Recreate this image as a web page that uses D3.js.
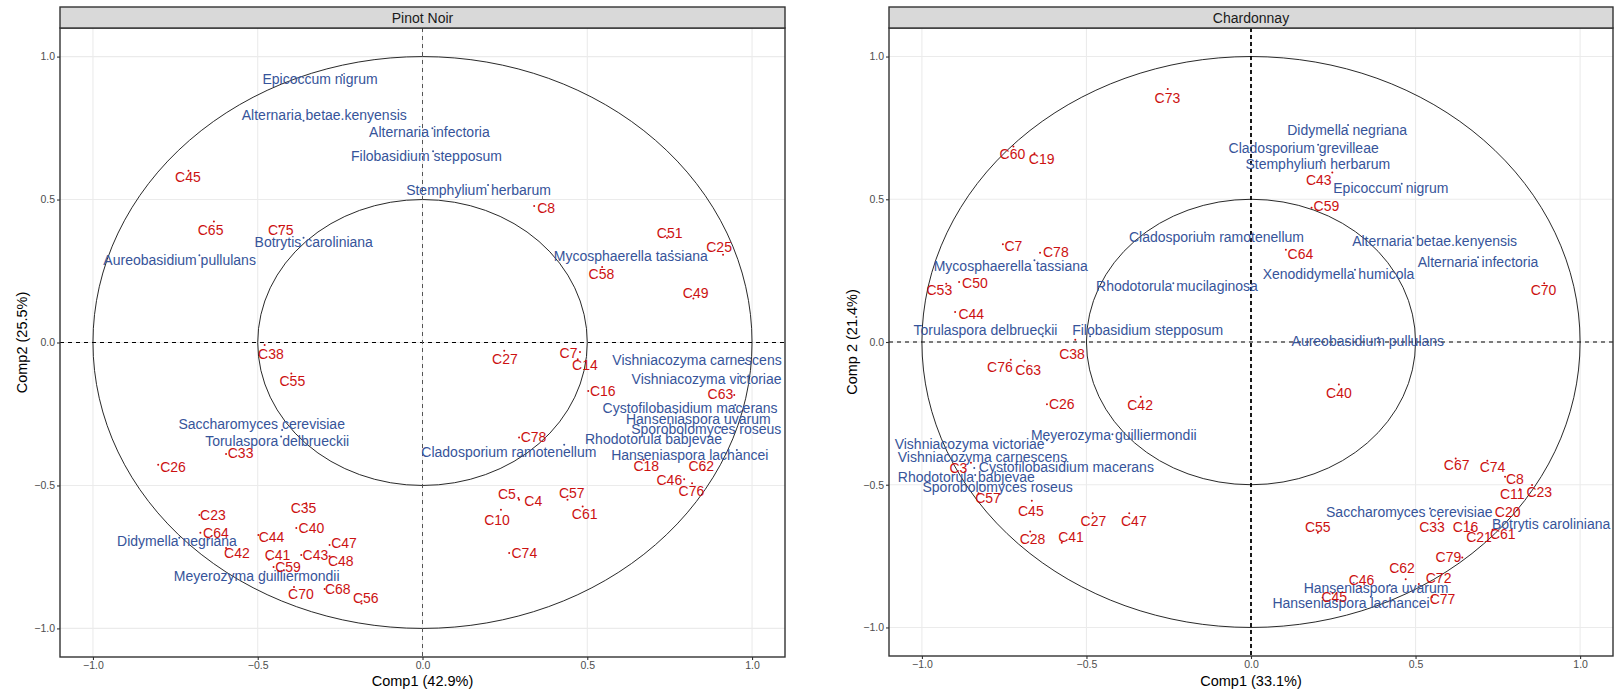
<!DOCTYPE html>
<html>
<head>
<meta charset="utf-8">
<script src="https://cdn.jsdelivr.net/npm/d3@7"></script>
<style>
  html, body { margin: 0; padding: 0; background: #ffffff; }
  svg { display: block; font-family: "Liberation Sans", Arial, Helvetica, sans-serif; }
</style>
</head>
<body>
<svg id="chart" width="1617" height="694"></svg>
<script>
// ---------------- DATA ----------------
// Each row: [label, x, y, labelX, labelY]  (point coordinates and repelled label position, data units)
const panelTitles = ["Pinot Noir", "Chardonnay"];
const xAxisTitles = ["Comp1 (42.9%)", "Comp1 (33.1%)"];
const yAxisTitles = ["Comp2 (25.5%)", "Comp 2 (21.4%)"];
const tickValues = [-1.0, -0.5, 0.0, 0.5, 1.0];
const circleRadii = [1.0, 0.5];

const pinotSamples = [
  ["C45", -0.710, 0.601, -0.712, 0.578],
  ["C65", -0.633, 0.423, -0.643, 0.392],
  ["C75", -0.434, 0.406, -0.430, 0.394],
  ["C8", 0.339, 0.477, 0.375, 0.471],
  ["C51", 0.742, 0.366, 0.750, 0.384],
  ["C25", 0.912, 0.307, 0.900, 0.334],
  ["C58", 0.545, 0.264, 0.543, 0.238],
  ["C49", 0.822, 0.154, 0.829, 0.173],
  ["C38", -0.479, -0.009, -0.460, -0.041],
  ["C55", -0.398, -0.108, -0.395, -0.135],
  ["C33", -0.596, -0.390, -0.552, -0.387],
  ["C26", -0.802, -0.428, -0.757, -0.434],
  ["C23", -0.677, -0.603, -0.636, -0.605],
  ["C64", -0.674, -0.665, -0.627, -0.665],
  ["C42", -0.596, -0.719, -0.563, -0.736],
  ["C44", -0.498, -0.673, -0.458, -0.679],
  ["C35", -0.353, -0.562, -0.361, -0.579],
  ["C40", -0.383, -0.649, -0.337, -0.649],
  ["C41", -0.466, -0.760, -0.440, -0.743],
  ["C43", -0.368, -0.743, -0.325, -0.743],
  ["C47", -0.282, -0.708, -0.238, -0.702],
  ["C48", -0.282, -0.748, -0.248, -0.763],
  ["C59", -0.452, -0.785, -0.408, -0.785],
  ["C70", -0.390, -0.855, -0.369, -0.879],
  ["C68", -0.297, -0.862, -0.257, -0.862],
  ["C56", -0.185, -0.913, -0.172, -0.895],
  ["C27", 0.248, -0.029, 0.250, -0.059],
  ["C7", 0.478, -0.033, 0.443, -0.035],
  ["C14", 0.471, -0.059, 0.493, -0.079],
  ["C16", 0.503, -0.170, 0.547, -0.170],
  ["C63", 0.946, -0.184, 0.904, -0.180],
  ["C78", 0.293, -0.332, 0.337, -0.332],
  ["C18", 0.671, -0.411, 0.679, -0.432],
  ["C62", 0.853, -0.446, 0.846, -0.432],
  ["C46", 0.794, -0.478, 0.749, -0.481],
  ["C76", 0.818, -0.492, 0.816, -0.521],
  ["C5", 0.291, -0.544, 0.256, -0.531],
  ["C4", 0.293, -0.550, 0.336, -0.553],
  ["C57", 0.440, -0.550, 0.453, -0.527],
  ["C61", 0.486, -0.574, 0.492, -0.599],
  ["C10", 0.238, -0.585, 0.226, -0.620],
  ["C74", 0.263, -0.736, 0.309, -0.736]
];

const pinotSpecies = [
  ["Epicoccum nigrum", -0.244, 0.936, -0.311, 0.921],
  ["Alternaria betae.kenyensis", -0.361, 0.776, -0.298, 0.796],
  ["Alternaria infectoria", 0.030, 0.749, 0.021, 0.735],
  ["Filobasidium stepposum", 0.032, 0.669, 0.012, 0.654],
  ["Stemphylium herbarum", 0.199, 0.551, 0.170, 0.534],
  ["Mycosphaerella tassiana", 0.757, 0.320, 0.632, 0.302],
  ["Botrytis caroliniana", -0.361, 0.366, -0.330, 0.351],
  ["Aureobasidium pullulans", -0.677, 0.305, -0.737, 0.287],
  ["Saccharomyces cerevisiae", -0.426, -0.306, -0.488, -0.285],
  ["Torulaspora delbrueckii", -0.429, -0.329, -0.441, -0.345],
  ["Didymella negriana", -0.738, -0.683, -0.745, -0.696],
  ["Meyerozyma guilliermondii", -0.479, -0.802, -0.503, -0.818],
  ["Cladosporium ramotenellum", 0.430, -0.358, 0.262, -0.382],
  ["Vishniacozyma carnescens", 0.980, -0.072, 0.833, -0.062],
  ["Vishniacozyma victoriae", 0.964, -0.118, 0.862, -0.126],
  ["Cystofilobasidium macerans", 0.949, -0.219, 0.812, -0.228],
  ["Hanseniaspora uvarum", 0.919, -0.261, 0.837, -0.269],
  ["Sporobolomyces roseus", 0.904, -0.296, 0.861, -0.304],
  ["Rhodotorula babjevae", 0.721, -0.327, 0.701, -0.339],
  ["Hanseniaspora lachancei", 0.954, -0.376, 0.811, -0.393]
];

const chardSamples = [
  ["C73", -0.253, 0.886, -0.254, 0.855],
  ["C60", -0.722, 0.685, -0.725, 0.659],
  ["C19", -0.658, 0.661, -0.636, 0.640],
  ["C7", -0.754, 0.342, -0.722, 0.338],
  ["C78", -0.641, 0.313, -0.593, 0.315],
  ["C50", -0.887, 0.210, -0.839, 0.206],
  ["C53", -0.926, 0.204, -0.947, 0.181],
  ["C44", -0.899, 0.105, -0.850, 0.099],
  ["C43", 0.247, 0.594, 0.206, 0.569],
  ["C59", 0.184, 0.470, 0.229, 0.476],
  ["C64", 0.106, 0.323, 0.150, 0.307],
  ["C70", 0.891, 0.206, 0.889, 0.181],
  ["C38", -0.534, 0.008, -0.544, -0.043],
  ["C76", -0.730, -0.062, -0.763, -0.087],
  ["C63", -0.688, -0.066, -0.677, -0.097],
  ["C26", -0.620, -0.218, -0.575, -0.218],
  ["C42", -0.335, -0.192, -0.337, -0.221],
  ["C3", -0.851, -0.423, -0.889, -0.443],
  ["C57", -0.828, -0.530, -0.799, -0.548],
  ["C45", -0.666, -0.556, -0.669, -0.592],
  ["C27", -0.481, -0.600, -0.479, -0.627],
  ["C47", -0.370, -0.600, -0.356, -0.627],
  ["C28", -0.671, -0.664, -0.664, -0.691],
  ["C41", -0.575, -0.703, -0.547, -0.682],
  ["C40", 0.267, -0.149, 0.267, -0.177],
  ["C67", 0.622, -0.408, 0.625, -0.431],
  ["C74", 0.718, -0.416, 0.734, -0.439],
  ["C8", 0.772, -0.472, 0.802, -0.480],
  ["C11", 0.817, -0.516, 0.794, -0.534],
  ["C23", 0.854, -0.501, 0.876, -0.524],
  ["C20", 0.810, -0.588, 0.780, -0.594],
  ["C55", 0.203, -0.668, 0.203, -0.647],
  ["C33", 0.571, -0.620, 0.550, -0.647],
  ["C16", 0.655, -0.629, 0.652, -0.649],
  ["C21", 0.670, -0.658, 0.693, -0.682],
  ["C61", 0.734, -0.658, 0.765, -0.672],
  ["C79", 0.642, -0.755, 0.600, -0.752],
  ["C62", 0.470, -0.831, 0.459, -0.792],
  ["C72", 0.510, -0.848, 0.570, -0.827],
  ["C46", 0.333, -0.857, 0.336, -0.833],
  ["C45", 0.248, -0.880, 0.253, -0.892],
  ["C77", 0.550, -0.893, 0.582, -0.901]
];

const chardSpecies = [
  ["Didymella negriana", 0.295, 0.760, 0.292, 0.744],
  ["Cladosporium grevilleae", 0.204, 0.691, 0.160, 0.680],
  ["Stemphylium herbarum", 0.215, 0.638, 0.203, 0.624],
  ["Epicoccum nigrum", 0.458, 0.554, 0.425, 0.538],
  ["Cladosporium ramotenellum", -0.140, 0.384, -0.105, 0.367],
  ["Rhodotorula mucilaginosa", -0.236, 0.206, -0.225, 0.195],
  ["Alternaria betae.kenyensis", 0.493, 0.365, 0.558, 0.353],
  ["Alternaria infectoria", 0.690, 0.297, 0.690, 0.282],
  ["Xenodidymella humicola", 0.316, 0.253, 0.266, 0.237],
  ["Aureobasidium pullulans", 0.387, 0.015, 0.355, 0.003],
  ["Mycosphaerella tassiana", -0.658, 0.286, -0.730, 0.266],
  ["Torulaspora delbrueckii", -0.633, 0.020, -0.807, 0.043],
  ["Filobasidium stepposum", -0.489, 0.020, -0.314, 0.041],
  ["Meyerozyma guilliermondii", -0.421, -0.323, -0.417, -0.326],
  ["Vishniacozyma victoriae", -0.620, -0.344, -0.855, -0.358],
  ["Vishniacozyma carnescens", -0.869, -0.414, -0.816, -0.402],
  ["Cystofilobasidium macerans", -0.841, -0.441, -0.561, -0.439],
  ["Rhodotorula babjevae", -0.838, -0.466, -0.865, -0.472],
  ["Sporobolomyces roseus", -0.823, -0.501, -0.770, -0.509],
  ["Saccharomyces cerevisiae", 0.544, -0.583, 0.481, -0.594],
  ["Botrytis caroliniana", 0.744, -0.623, 0.912, -0.637],
  ["Hanseniaspora uvarum", 0.422, -0.851, 0.380, -0.862],
  ["Hanseniaspora lachancei", 0.364, -0.892, 0.304, -0.913]
];

// ---------------- LAYOUT / STYLE ----------------
const sampleColor = "#CC1111";
const speciesColor = "#36549A";
const panels = [
  { title: panelTitles[0], xTitle: xAxisTitles[0], yTitle: yAxisTitles[0],
    samples: pinotSamples, species: pinotSpecies,
    x0: 60, x1: 785, y0: 28, y1: 657, yTitleX: 22, vDash: { color: "#555", width: 1, dash: "4,4" } },
  { title: panelTitles[1], xTitle: xAxisTitles[1], yTitle: yAxisTitles[1],
    samples: chardSamples, species: chardSpecies,
    x0: 889, x1: 1613, y0: 28, y1: 656, yTitleX: 852, vDash: { color: "#000", width: 1.8, dash: "4,3" } }
];
const stripTop = 7;

const svg = d3.select("#chart");

panels.forEach((p, pi) => {
  const x = d3.scaleLinear().domain([-1.1, 1.1]).range([p.x0, p.x1]);
  const y = d3.scaleLinear().domain([-1.1, 1.1]).range([p.y1, p.y0]);
  const g = svg.append("g");

  // panel background
  g.append("rect").attr("x", p.x0).attr("y", p.y0)
    .attr("width", p.x1 - p.x0).attr("height", p.y1 - p.y0).attr("fill", "#fff");

  // grid lines
  g.append("g").selectAll("line.gx").data(tickValues).join("line")
    .attr("x1", d => x(d)).attr("x2", d => x(d)).attr("y1", p.y0).attr("y2", p.y1)
    .attr("stroke", "#EBEBEB").attr("stroke-width", 1.1);
  g.append("g").selectAll("line.gy").data(tickValues).join("line")
    .attr("y1", d => y(d)).attr("y2", d => y(d)).attr("x1", p.x0).attr("x2", p.x1)
    .attr("stroke", "#EBEBEB").attr("stroke-width", 1.1);

  // correlation circles
  g.append("g").selectAll("ellipse").data(circleRadii).join("ellipse")
    .attr("cx", x(0)).attr("cy", y(0))
    .attr("rx", d => x(d) - x(0)).attr("ry", d => y(0) - y(d))
    .attr("fill", "none").attr("stroke", "#111").attr("stroke-width", 0.9);

  // dashed reference lines
  g.append("line").attr("x1", p.x0).attr("x2", p.x1).attr("y1", y(0)).attr("y2", y(0))
    .attr("stroke", "#000").attr("stroke-width", 1.1).attr("stroke-dasharray", "4,4");
  g.append("line").attr("x1", x(0)).attr("x2", x(0)).attr("y1", p.y0).attr("y2", p.y1)
    .attr("stroke", p.vDash.color).attr("stroke-width", p.vDash.width).attr("stroke-dasharray", p.vDash.dash);

  // points
  const drawSet = (rows, color) => {
    const sg = g.append("g");
    sg.selectAll("circle").data(rows).join("circle")
      .attr("cx", d => x(d[1])).attr("cy", d => y(d[2])).attr("r", 1)
      .attr("fill", color);
    sg.selectAll("text").data(rows).join("text")
      .attr("x", d => x(d[3])).attr("y", d => y(d[4]))
      .attr("text-anchor", "middle").attr("dominant-baseline", "central")
      .attr("font-size", 14).attr("fill", color)
      .text(d => d[0]);
  };
  drawSet(p.species, speciesColor);
  drawSet(p.samples, sampleColor);

  // panel border
  g.append("rect").attr("x", p.x0).attr("y", p.y0)
    .attr("width", p.x1 - p.x0).attr("height", p.y1 - p.y0)
    .attr("fill", "none").attr("stroke", "#333").attr("stroke-width", 1.4);

  // strip
  g.append("rect").attr("x", p.x0).attr("y", stripTop)
    .attr("width", p.x1 - p.x0).attr("height", p.y0 - stripTop)
    .attr("fill", "#D9D9D9").attr("stroke", "#333").attr("stroke-width", 1.4);
  g.append("text").attr("x", (p.x0 + p.x1) / 2).attr("y", (stripTop + p.y0) / 2 + 0.5)
    .attr("text-anchor", "middle").attr("dominant-baseline", "central")
    .attr("font-size", 14).attr("fill", "#1A1A1A").text(p.title);

  // axes
  const fmt = d3.format(".1f");
  const ax = g.append("g").attr("transform", `translate(0,${p.y1})`)
    .call(d3.axisBottom(x).tickValues(tickValues).tickFormat(fmt).tickSize(3).tickSizeOuter(0).tickPadding(2));
  const ay = g.append("g").attr("transform", `translate(${p.x0},0)`)
    .call(d3.axisLeft(y).tickValues(tickValues).tickFormat(fmt).tickSize(3).tickSizeOuter(0).tickPadding(2));
  [ax, ay].forEach(a => {
    a.select(".domain").remove();
    a.selectAll(".tick line").attr("stroke", "#333").attr("stroke-width", 1.1);
    a.selectAll(".tick text").attr("fill", "#4D4D4D").attr("font-size", 10.5)
      .attr("font-family", "'Liberation Sans', Arial, sans-serif");
  });

  // axis titles
  g.append("text").attr("x", (p.x0 + p.x1) / 2).attr("y", 681)
    .attr("text-anchor", "middle").attr("dominant-baseline", "central")
    .attr("font-size", 14.5).attr("fill", "#000").text(p.xTitle);
  g.append("text")
    .attr("transform", `translate(${p.yTitleX},${(p.y0 + p.y1) / 2}) rotate(-90)`)
    .attr("text-anchor", "middle").attr("dominant-baseline", "central")
    .attr("font-size", 14.5).attr("fill", "#000").text(p.yTitle);
});
</script>
</body>
</html>
